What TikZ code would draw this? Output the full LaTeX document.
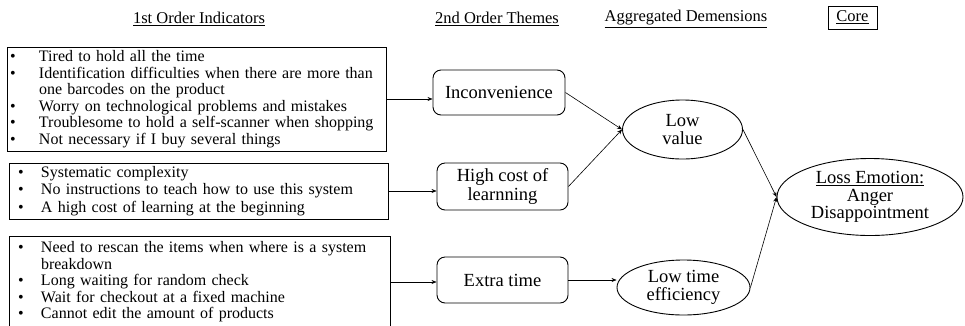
\documentclass[tikz,border=0pt]{standalone}
\usepackage{fontspec}
\setmainfont{Liberation Serif}
\usetikzlibrary{shapes.geometric,arrows.meta}
\newlength\bulw
\setlength\bulw{29pt}
\newcommand\bul{\makebox[\bulw][l]{\textbullet}}

\begin{document}
\begin{tikzpicture}[x=1pt, y=-1pt,
	indbox/.style={draw, line width=0.9pt, inner xsep=3pt, inner ysep=0pt, align=left, font=\fontsize{16}{16.5}\selectfont},
	indboxb/.style={indbox, inner xsep=9pt, execute at begin node={\setlength\bulw{23pt}}},
	theme/.style={draw, rounded corners=8pt, line width=0.9pt, inner sep=0pt, align=center, font=\fontsize{18.5}{19}\selectfont},
	dimen/.style={draw, ellipse, line width=0.9pt, inner sep=0pt, align=center, font=\fontsize{18.5}{18}\selectfont},
	header/.style={font=\fontsize{16.5}{18}\selectfont},
	arr/.style={-{Stealth[length=5pt,width=4pt]}, line width=0.6pt}]
\useasboundingbox (0,0) rectangle (965,325);

% column headers
\node[header] (h1) at (199,19) {\underline{1st Order Indicators}};
\node[header] (h2) at (497,19) {\underline{2nd Order Themes}};
\node[header] (h3) at (686,19) {\underline{Aggregated Demensions}};
\node[header, draw, line width=0.9pt, minimum width=49pt, minimum height=23pt, inner sep=0pt] (h4) at (852.5,17.5) {\underline{Core}};

% 1st order indicators
\node[indbox, text width=373pt, minimum height=104pt] (ind1) at (196.5,99) {\bul Tired to hold all the time\\
	\bul Identification difficulties when there are more than\\
	\hspace*{\bulw}one barcodes on the product\\
	\bul Worry on technological problems and mistakes\\
	\bul Troublesome to hold a self-scanner when shopping\\
	\bul Not necessary if I buy several things};
\node[indboxb, text width=361pt, minimum height=56pt, font=\fontsize{16}{17.5}\selectfont] (ind2) at (198.5,191) {\bul Systematic complexity\\
	\bul No instructions to teach how to use this system\\
	\bul A high cost of learning at the beginning};
\node[indboxb, text width=363pt, minimum height=92pt] (ind3) at (199.5,282) {\bul Need to rescan the items when where is a system\\
	\hspace*{\bulw}breakdown\\
	\bul Long waiting for random check\\
	\bul Wait for checkout at a fixed machine\\
	\bul Cannot edit the amount of products};

% 2nd order themes
\node[theme, minimum width=132pt, minimum height=45pt] (inconv) at (499,92.5) {Inconvenience};
\node[theme, minimum width=131pt, minimum height=47pt] (cost) at (502.5,186.5) {High cost of\\learnning};
\node[theme, minimum width=131pt, minimum height=46pt] (extra) at (502.5,280) {Extra time};

% aggregated dimensions
\node[dimen, minimum width=120pt, minimum height=59pt] (lowval) at (682.5,129.5) {Low\\value};
\node[dimen, minimum width=133pt, minimum height=55pt] (lowtime) at (683.5,287.5) {Low time\\efficiency};

% core
\node[dimen, minimum width=186pt, minimum height=77pt, font=\fontsize{18.5}{17.5}\selectfont] (loss) at (870,197) {\underline{Loss Emotion:}\\Anger\\Disappointment};

\draw[arr] (ind1.east) -- (ind1.east -| inconv.west);
\draw[arr] (ind2.east) -- (ind2.east -| cost.west);
\draw[arr] (ind3.east) -- (ind3.east -| extra.west);
\draw[arr] (inconv.east) -- (lowval.west);
\draw[arr] (cost.east) -- (lowval.west);
\draw[arr] (extra.east) -- (extra.east -| lowtime.west);
\draw[arr] (lowval.east) -- (loss.west);
\draw[arr] (lowtime.east) -- (loss.west);
\end{tikzpicture}
\end{document}
